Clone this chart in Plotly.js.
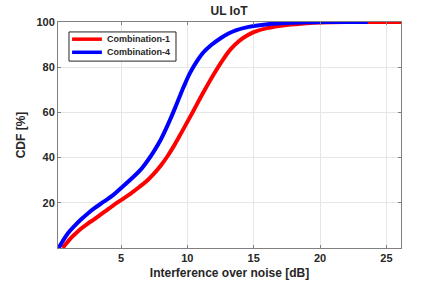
<!DOCTYPE html>
<html>
<head>
<meta charset="utf-8">
<script src="https://cdn.plot.ly/plotly-3.0.1.min.js"></script>
<style>html,body{margin:0;padding:0;background:#fff;}#chart{width:443px;height:289px;}</style>
</head>
<body>
<div id="chart"></div>
<script>
// Combination-4 (blue)
const comb4X = [0.3, 0.6, 1.0, 1.5, 2.0, 2.5, 3.0, 3.7, 4.4, 5.0, 5.9, 6.5, 7.0, 7.5, 8.0, 8.7, 9.2, 9.7, 10.2, 10.7, 11.2, 11.8, 12.5, 13.1, 13.7, 14.3, 15.0, 16.2, 17.5, 19.0, 20.5, 23.6];
const comb4Y = [0, 3, 6.5, 9.8, 12.7, 15.3, 17.6, 20.5, 23.4, 26.5, 31.3, 34.8, 38.6, 43, 48, 56.8, 63.8, 71, 77.5, 82.5, 86.5, 89.8, 92.8, 94.9, 96.4, 97.4, 98.2, 99.1, 99.6, 99.9, 100, 100];
// Combination-1 (red)
const comb1X = [0.6, 0.9, 1.2, 1.5, 2.0, 2.5, 3.0, 3.8, 4.4, 5.0, 5.7, 6.4, 7.0, 7.5, 8.0, 8.5, 9.0, 9.5, 10.0, 10.5, 11.2, 12.0, 12.7, 13.3, 13.9, 14.5, 15.0, 16.0, 17.5, 19.0, 20.0, 22.0, 26.1];
const comb1Y = [0, 2.2, 4.3, 6.0, 8.6, 10.8, 12.8, 16.2, 18.8, 21.2, 24, 27.1, 30, 33, 36.5, 40.6, 45.3, 50.5, 55.8, 61.2, 68.8, 77, 83.5, 88.2, 91.6, 94, 95.5, 97.3, 98.7, 99.5, 99.8, 100, 100];
const seriesNames = ['Combination-1', 'Combination-4'];
const seriesColors = ['#ff0000', '#0000ff'];
const xTicks = [5, 10, 15, 20, 25];
const yTicks = [20, 40, 60, 80, 100];

const fontFam = 'Liberation Sans, Arial, sans-serif';
const txt = '#262626';
const traces = [
  {x: comb1X, y: comb1Y, name: seriesNames[0], mode: 'lines', line: {color: seriesColors[0], width: 4, shape: 'spline'}},
  {x: comb4X, y: comb4Y, name: seriesNames[1], mode: 'lines', line: {color: seriesColors[1], width: 4, shape: 'spline'}}
];
const axisCommon = {
  showgrid: true, gridcolor: '#e6e6e6', gridwidth: 1,
  showline: true, linecolor: '#808080', linewidth: 1, mirror: 'allticks',
  ticks: 'inside', ticklen: 3, tickcolor: '#808080',
  zeroline: false,
  tickfont: {family: fontFam, size: 11, color: txt, weight: 'bold'}
};
// legend box drawn in paper coordinates (MATLAB-style compact legend)
const lg = {x0: 0.032, x1: 0.344, y0: 0.827, y1: 0.956};
const rowY = [0.924, 0.866];
const shapes = [
  {type: 'rect', xref: 'paper', yref: 'paper', x0: lg.x0, x1: lg.x1, y0: lg.y0, y1: lg.y1,
   line: {color: '#262626', width: 1}, fillcolor: '#ffffff', layer: 'above'}
];
const annotations = [];
seriesNames.forEach((n, i) => {
  shapes.push({type: 'line', xref: 'paper', yref: 'paper', x0: 0.041, x1: 0.128, y0: rowY[i], y1: rowY[i],
    line: {color: seriesColors[i], width: 3.5}, layer: 'above'});
  annotations.push({xref: 'paper', yref: 'paper', x: 0.138, y: rowY[i], xanchor: 'left', yanchor: 'middle',
    text: n, showarrow: false, font: {family: fontFam, size: 9, color: txt, weight: 'bold'}});
});
const layout = {
  width: 443, height: 289,
  margin: {l: 58, r: 42, t: 22, b: 41},
  paper_bgcolor: '#fff', plot_bgcolor: '#fff',
  title: {text: 'UL IoT', x: 0.517, xanchor: 'center', y: 0.962, yanchor: 'middle', font: {family: fontFam, size: 12, color: txt, weight: 'bold'}},
  xaxis: Object.assign({}, axisCommon, {
    range: [0.25, 26.1], tickvals: xTicks, ticktext: xTicks.map(String),
    title: {text: 'Interference over noise [dB]', standoff: 5, font: {family: fontFam, size: 12, color: txt, weight: 'bold'}}
  }),
  yaxis: Object.assign({}, axisCommon, {
    range: [0, 100], tickvals: yTicks, ticktext: yTicks.map(String),
    title: {text: 'CDF [%]', standoff: 8, font: {family: fontFam, size: 12, color: txt, weight: 'bold'}}
  }),
  showlegend: false,
  shapes: shapes,
  annotations: annotations
};
Plotly.newPlot('chart', traces, layout, {staticPlot: true, displayModeBar: false});
</script>
</body>
</html>
